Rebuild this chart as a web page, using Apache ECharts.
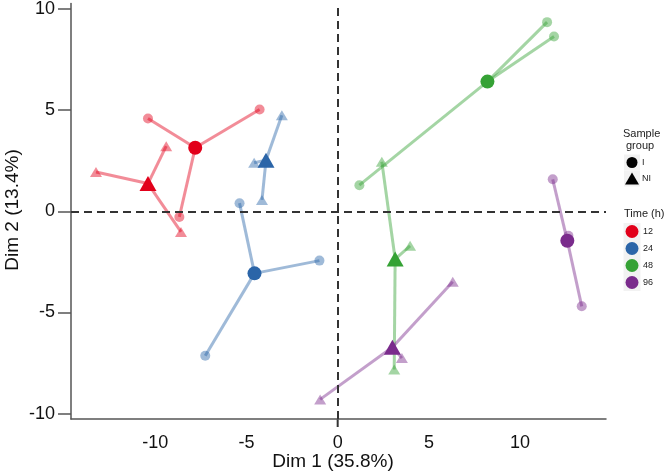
<!DOCTYPE html>
<html>
<head>
<meta charset="utf-8">
<script src="https://cdn.jsdelivr.net/npm/echarts@6/dist/echarts.min.js"></script>
<style>html,body{margin:0;padding:0;background:#fff}#c{width:666px;height:476px}</style>
</head>
<body>
<div id="c"></div>
<script>
// ---- data ----
const times = ['12', '24', '48', '96'];
const timeColors = ['#E2001A', '#2B65A8', '#35A235', '#7A2B8C'];
const groups = ['I', 'NI'];
// centroids (Sample group I = circle, NI = triangle)
const centI_x = [-7.81, -4.56, 8.21, 12.59];
const centI_y = [3.14, -3.07, 6.41, -1.46];
const centNI_x = [-10.40, -3.93, 3.15, 3.00];
const centNI_y = [1.37, 2.52, -2.36, -6.72];
// replicates
const repI_x = [[-10.40, -4.28, -8.68], [-5.38, -1.00, -7.26], [11.48, 11.86, 1.19], [11.79, 12.65, 13.38]];
const repI_y = [[4.59, 5.03, -0.28], [0.40, -2.44, -7.14], [9.35, 8.64, 1.29], [1.58, -1.21, -4.70]];
const repNI_x = [[-13.25, -9.40, -8.59], [-3.06, -4.58, -4.15], [2.42, 3.97, 3.10], [6.31, 3.52, -0.96]];
const repNI_y = [[1.94, 3.22, -1.02], [4.75, 2.40, 0.56], [2.45, -1.71, -7.82], [-3.48, -7.26, -9.30]];
const xTicks = [-10, -5, 0, 5, 10];
const yTicks = [-10, -5, 0, 5, 10];
const xTitle = 'Dim 1 (35.8%)';
const yTitle = 'Dim 2 (13.4%)';

const FONT = '"Liberation Sans", Arial, Helvetica, sans-serif';
const series = [];

// reference dashed lines
series.push({
  type: 'scatter', data: [], silent: true, z: 1,
  markLine: {
    silent: true, symbol: ['none', 'none'], label: {show: false},
    lineStyle: {type: [8, 5], color: '#333', width: 2},
    data: [{xAxis: 0}, {yAxis: 0}]
  }
});

// segments
times.forEach((t, i) => {
  const segs = [];
  for (let k = 0; k < 3; k++) {
    segs.push({coords: [[centI_x[i], centI_y[i]], [repI_x[i][k], repI_y[i][k]]]});
    segs.push({coords: [[centNI_x[i], centNI_y[i]], [repNI_x[i][k], repNI_y[i][k]]]});
  }
  series.push({
    type: 'lines', coordinateSystem: 'cartesian2d', z: 2, silent: true,
    data: segs,
    lineStyle: {color: timeColors[i], width: 3, opacity: 0.45}
  });
});

// replicate points
times.forEach((t, i) => {
  series.push({
    type: 'scatter', z: 3, symbol: 'circle', symbolSize: 10,
    data: repI_x[i].map((x, k) => [x, repI_y[i][k]]),
    itemStyle: {color: timeColors[i], opacity: 0.45}
  });
  series.push({
    type: 'scatter', z: 3, symbol: 'triangle', symbolSize: [12, 10],
    data: repNI_x[i].map((x, k) => [x, repNI_y[i][k]]),
    itemStyle: {color: timeColors[i], opacity: 0.45}
  });
});

// centroids
times.forEach((t, i) => {
  series.push({
    type: 'scatter', z: 4, symbol: 'circle', symbolSize: 14,
    data: [[centI_x[i], centI_y[i]]],
    itemStyle: {color: timeColors[i], opacity: 1}
  });
  series.push({
    type: 'scatter', z: 4, symbol: 'triangle', symbolSize: [17, 15],
    data: [[centNI_x[i], centNI_y[i]]],
    itemStyle: {color: timeColors[i], opacity: 1}
  });
});

// legend graphics
const graphics = [];
const txt = (x, y, s, size, align) => ({
  type: 'text', left: x, top: y - size * 0.6,
  style: {text: s, font: size + 'px ' + FONT, fill: '#222', textAlign: align || 'left'}
});
graphics.push(txt(623, 135, 'Sample', 11));
graphics.push(txt(626, 147, 'group', 11));
const keyX = 632;
const shapeY = [162.5, 178.5];
groups.forEach((g, j) => {
  graphics.push({type: 'rect', shape: {x: keyX - 8, y: shapeY[j] - 8, width: 16, height: 16}, style: {fill: '#F2F2F2'}});
  if (j === 0) {
    graphics.push({type: 'circle', shape: {cx: keyX, cy: shapeY[j], r: 5.5}, style: {fill: '#000'}});
  } else {
    graphics.push({type: 'polygon', shape: {points: [[keyX, shapeY[j] - 6], [keyX - 7, shapeY[j] + 6], [keyX + 7, shapeY[j] + 6]]}, style: {fill: '#000'}});
  }
  graphics.push(txt(642, shapeY[j] + 1, g, 9));
});
graphics.push(txt(624, 215, 'Time (h)', 11));
const colY = [231.5, 248.5, 265.5, 282.5];
times.forEach((t, i) => {
  graphics.push({type: 'rect', shape: {x: keyX - 8.5, y: colY[i] - 8.5, width: 17, height: 17}, style: {fill: '#F2F2F2'}});
  graphics.push({type: 'circle', shape: {cx: keyX, cy: colY[i], r: 6.5}, style: {fill: timeColors[i]}});
  graphics.push(txt(643, colY[i] + 1, t, 9));
});
// axis titles
graphics.push({type: 'text', left: 'center', top: 452, style: {text: xTitle, font: '19px ' + FONT, fill: '#111'}});
graphics.push({type: 'text', x: 3, y: 210, rotation: Math.PI / 2,
  style: {text: yTitle, font: '19px ' + FONT, fill: '#111', textAlign: 'center', textVerticalAlign: 'top'}});

const chart = echarts.init(document.getElementById('c'), null, {renderer: 'canvas'});
const option = {
  animation: false,
  backgroundColor: '#fff',
  grid: {left: 71, right: 60, top: 2, bottom: 57, containLabel: false},
  xAxis: {
    type: 'value', min: -14.62, max: 14.71,
    axisLine: {show: true, onZero: false, lineStyle: {color: '#555', width: 1.5}},
    axisTick: {show: false},
    splitLine: {show: false},
    axisLabel: {customValues: xTicks, fontSize: 18, fontFamily: FONT, color: '#111', margin: 15}
  },
  yAxis: {
    type: 'value', min: -10.27, max: 10.27,
    axisLine: {show: true, onZero: false, lineStyle: {color: '#555', width: 1.5}},
    axisTick: {show: true, customValues: yTicks, length: 13, lineStyle: {color: '#555', width: 1.5}},
    splitLine: {show: false},
    axisLabel: {customValues: yTicks, fontSize: 18, fontFamily: FONT, color: '#111', margin: 16}
  },
  series: series,
  graphic: graphics
};
chart.setOption(option);
// extend the vertical dashed reference line slightly below the x axis, as in the reference
const p0 = chart.convertToPixel({gridIndex: 0}, [0, -10.27]);
graphics.push({type: 'line', shape: {x1: p0[0], y1: p0[1], x2: p0[0], y2: p0[1] + 10},
  style: {stroke: '#333', lineWidth: 2, lineDash: [8, 5]}});
chart.setOption({graphic: graphics});
</script>
</body>
</html>
